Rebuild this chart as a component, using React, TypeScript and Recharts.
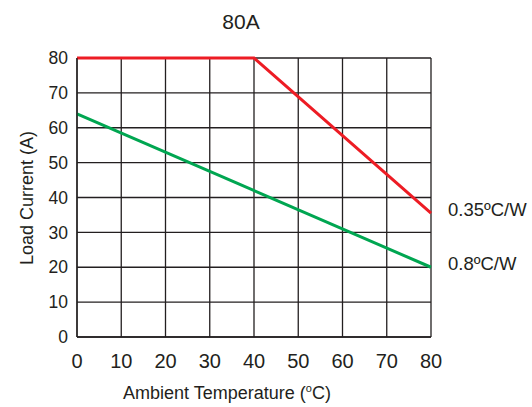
import { LineChart, Line, XAxis, YAxis, CartesianGrid } from 'recharts'

const xTicks = [0, 10, 20, 30, 40, 50, 60, 70, 80]
const yTicks = [0, 10, 20, 30, 40, 50, 60, 70, 80]

const redTemps = [0, 40, 80]
const redCurrent = [80, 80, 35.5]
const redName = '0.35ºC/W'

const greenTemps = [0, 80]
const greenCurrent = [64, 20]
const greenName = '0.8ºC/W'

const redData = redTemps.map((t, i) => ({ t, v: redCurrent[i] }))
const greenData = greenTemps.map((t, i) => ({ t, v: greenCurrent[i] }))

const font = '"Liberation Sans", Arial, sans-serif'
const ink = '#231f20'

function endLabel(name: string, lastIndex: number) {
  return (props: any) => {
    if (props.index !== lastIndex) return null
    return (
      <text x={props.x + 17} y={props.y - 4} fontSize={18.5} fill={ink} fontFamily={font} dominantBaseline="central">
        {name}
      </text>
    )
  }
}

export default function App() {
  return (
    <div style={{ position: 'absolute', left: 0, top: 0, width: 532, height: 407, background: '#fff', fontFamily: font, color: ink }}>
      <LineChart width={532} height={407} margin={{ top: 58, right: 101, left: 30, bottom: 40 }}>
        <CartesianGrid stroke={ink} strokeWidth={1.3} horizontalValues={yTicks} verticalValues={xTicks} />
        <XAxis
          type="number"
          dataKey="t"
          domain={[0, 80]}
          ticks={xTicks}
          height={30}
          tickLine={false}
          axisLine={{ stroke: ink, strokeWidth: 1.3 }}
          tick={{ fill: ink, fontSize: 20, fontFamily: font }}
          tickMargin={11}
        />
        <YAxis
          type="number"
          domain={[0, 80]}
          ticks={yTicks}
          width={47}
          tickLine={false}
          axisLine={{ stroke: ink, strokeWidth: 1.3 }}
          tick={{ fill: ink, fontSize: 17.5, fontFamily: font }}
          tickMargin={3}
        />
        <Line
          data={greenData}
          dataKey="v"
          stroke="#00a651"
          strokeWidth={3}
          dot={false}
          activeDot={false}
          isAnimationActive={false}
          label={endLabel(greenName, greenData.length - 1)}
        />
        <Line
          data={redData}
          dataKey="v"
          stroke="#ed1c24"
          strokeWidth={3}
          dot={false}
          activeDot={false}
          isAnimationActive={false}
          label={endLabel(redName, redData.length - 1)}
        />
      </LineChart>
      <div
        style={{
          position: 'absolute',
          left: 241,
          top: 21,
          transform: 'translate(-50%, -50%)',
          whiteSpace: 'nowrap',
          fontSize: 21,
          lineHeight: 1,
        }}
      >
        80A
      </div>
      <div
        style={{
          position: 'absolute',
          left: 27,
          top: 198,
          transform: 'translate(-50%, -50%) rotate(-90deg)',
          whiteSpace: 'nowrap',
          fontSize: 18,
          lineHeight: 1,
        }}
      >
        Load Current (A)
      </div>
      <div
        style={{
          position: 'absolute',
          left: 227,
          top: 393,
          transform: 'translate(-50%, -50%)',
          whiteSpace: 'nowrap',
          fontSize: 18,
          lineHeight: 1,
        }}
      >
        Ambient Temperature (<sup style={{ fontSize: 11, lineHeight: 0 }}>o</sup>C)
      </div>
    </div>
  )
}
